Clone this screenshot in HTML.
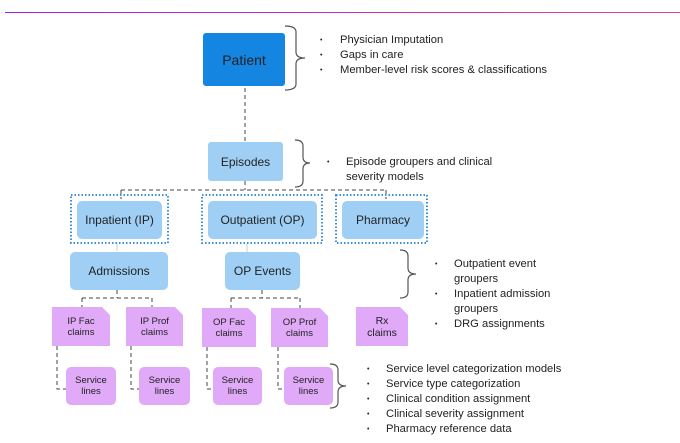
<!DOCTYPE html>
<html><head><style>
body{margin:0;width:680px;height:443px;background:#fff;position:relative;overflow:hidden;font-family:"Liberation Sans",sans-serif;color:#222}
.b{position:absolute;display:flex;align-items:center;justify-content:center;text-align:center;border-radius:3px}
.t{position:absolute;font-size:11.2px;line-height:15px;white-space:nowrap;color:#222}
.u{position:absolute;font-size:7px;line-height:15px;color:#222}
</style></head><body>
<div style="position:absolute;left:5px;top:12px;width:675px;height:1px;background:linear-gradient(90deg,#a020e0,#e040a0)"></div>
<svg width="680" height="443" style="position:absolute;left:0;top:0">
<g stroke="#444" stroke-width="1" fill="none" stroke-dasharray="4,3">
<path d="M245 88V142"/>
<path d="M245 181V190M121 190H386M121 190V199M386 190V199"/>
<path d="M117 290V298M82 298H152M82 298V307M152 298V307"/>
<path d="M262 290V298M231 298H300M231 298V308M300 298V308"/>
<path d="M57 346V389H66M131 346V389H139M207 347V389H213M278 347V389H284"/>
</g>
<g stroke="#ccc" stroke-width="1"><path d="M117 243V251M247 243V252"/></g>
<g stroke="#555" stroke-width="1.2" fill="none">
<path d="M285 26Q296 26 296 32V52Q296 58 305 58Q296 58 296 64V84Q296 90 285 90"/>
<path d="M295 140Q303 140 303 146V157Q303 163 310 163Q303 163 303 169V181Q303 187 295 187"/>
<path d="M400 250Q408 250 408 256V268Q408 274 416 274Q408 274 408 280V292Q408 298 400 298"/>
<path d="M330 364Q338 364 338 370V380Q338 386 346 386Q338 386 338 392V402Q338 408 330 408"/>
</g>
<g stroke="#3a90e0" stroke-width="2" fill="none" stroke-dasharray="1.5,2">
<rect x="71" y="195" width="97" height="48"/>
<rect x="202" y="195" width="120" height="48"/>
<rect x="336" y="195" width="91" height="48"/>
</g>
<g fill="#e0aaf8">
<path d="M52 307H102L110 315V346H52Z"/>
<path d="M126 307H175L183 315V346H126Z"/>
<path d="M202 308H248L256 316V347H202Z"/>
<path d="M271 308H320L328 316V347H271Z"/>
<path d="M356 307H400L408 315V346H356Z"/>
</g>
</svg>
<div class="b" style="left:203px;top:33px;width:82px;height:53px;background:#1485e0;font-size:14px">Patient</div>
<div class="b" style="left:208px;top:142px;width:75px;height:39px;background:#a0cff5;font-size:12px">Episodes</div>
<div class="b" style="left:77px;top:201px;width:85px;height:38px;background:#a0cff5;font-size:12px;border-radius:5px">Inpatient (IP)</div>
<div class="b" style="left:208px;top:201px;width:109px;height:38px;background:#a0cff5;font-size:12px;border-radius:5px">Outpatient (OP)</div>
<div class="b" style="left:342px;top:201px;width:82px;height:38px;background:#a0cff5;font-size:12px;border-radius:5px">Pharmacy</div>
<div class="b" style="left:70px;top:252px;width:98px;height:38px;background:#a0cff5;font-size:12px;border-radius:5px">Admissions</div>
<div class="b" style="left:225px;top:252px;width:75px;height:38px;background:#a0cff5;font-size:12px;border-radius:5px">OP Events</div>
<div class="b" style="left:52px;top:307px;width:58px;height:39px;font-size:9.5px;line-height:11px">IP Fac<br>claims</div>
<div class="b" style="left:126px;top:307px;width:57px;height:39px;font-size:9.5px;line-height:11px">IP Prof<br>claims</div>
<div class="b" style="left:202px;top:308px;width:54px;height:39px;font-size:9.5px;line-height:11px">OP Fac<br>claims</div>
<div class="b" style="left:271px;top:308px;width:57px;height:39px;font-size:9.5px;line-height:11px">OP Prof<br>claims</div>
<div class="b" style="left:356px;top:307px;width:52px;height:39px;font-size:10.5px;line-height:12px">Rx<br>claims</div>
<div class="b" style="left:66px;top:367px;width:50px;height:38px;background:#e0aaf8;font-size:9.5px;line-height:11px;border-radius:5px">Service<br>lines</div>
<div class="b" style="left:139px;top:367px;width:51px;height:38px;background:#e0aaf8;font-size:9.5px;line-height:11px;border-radius:5px">Service<br>lines</div>
<div class="b" style="left:213px;top:367px;width:49px;height:38px;background:#e0aaf8;font-size:9.5px;line-height:11px;border-radius:5px">Service<br>lines</div>
<div class="b" style="left:284px;top:367px;width:49px;height:38px;background:#e0aaf8;font-size:9.5px;line-height:11px;border-radius:5px">Service<br>lines</div>
<div class="u" style="left:320px;top:33px">•<br>•<br>•</div>
<div class="t" style="left:340px;top:33px">Physician Imputation<br>Gaps in care<br>Member-level risk scores &amp; classifications</div>
<div class="u" style="left:327px;top:155px">•</div>
<div class="t" style="left:346px;top:155px">Episode groupers and clinical<br>severity models</div>
<div class="u" style="left:435px;top:257px">•<br><br>•<br><br>•</div>
<div class="t" style="left:454px;top:257px">Outpatient event<br>groupers<br>Inpatient admission<br>groupers<br>DRG assignments</div>
<div class="u" style="left:367px;top:362px">•<br>•<br>•<br>•<br>•</div>
<div class="t" style="left:386px;top:362px">Service level categorization models<br>Service type categorization<br>Clinical condition assignment<br>Clinical severity assignment<br>Pharmacy reference data</div>
</body></html>
